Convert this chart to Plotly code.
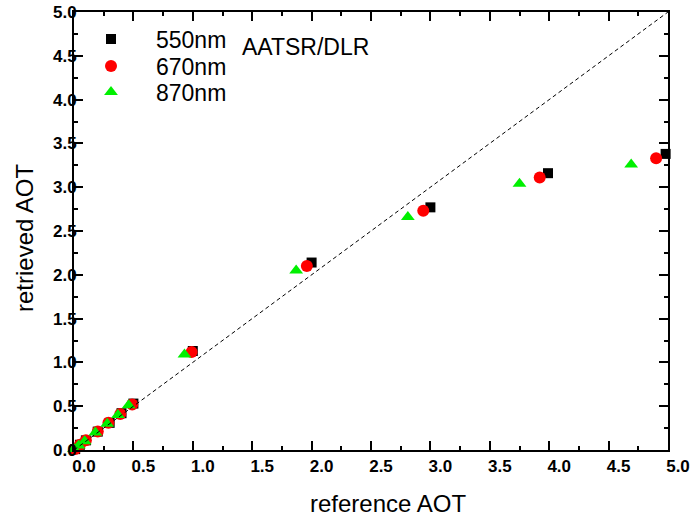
import plotly.graph_objects as go

# reference AOT (x) and retrieved AOT (y) per wavelength
ref_550 = [0.01, 0.05, 0.10, 0.20, 0.30, 0.40, 0.50, 1.00, 2.00, 3.00, 3.99, 4.98]
ret_550 = [0.01, 0.06, 0.11, 0.21, 0.31, 0.42, 0.53, 1.13, 2.14, 2.77, 3.16, 3.38]
ref_670 = [0.01, 0.05, 0.10, 0.20, 0.29, 0.39, 0.49, 0.99, 1.96, 2.94, 3.92, 4.90]
ret_670 = [0.01, 0.06, 0.11, 0.21, 0.31, 0.41, 0.52, 1.12, 2.10, 2.73, 3.11, 3.33]
ref_870 = [0.00, 0.04, 0.09, 0.18, 0.28, 0.37, 0.46, 0.93, 1.87, 2.81, 3.75, 4.69]
ret_870 = [0.01, 0.05, 0.10, 0.20, 0.30, 0.40, 0.51, 1.09, 2.05, 2.66, 3.04, 3.26]
one_to_one = [0.0, 5.0]

tick_vals = [0, 0.5, 1, 1.5, 2, 2.5, 3, 3.5, 4, 4.5, 5]
tick_text = ["0.0", "0.5", "1.0", "1.5", "2.0", "2.5", "3.0", "3.5", "4.0", "4.5", "5.0"]

FONT = "Liberation Sans, Arial, sans-serif"
L, R, T, B = 74, 28, 12, 66
PW, PH = 696 - L - R, 516 - T - B


def px(xpix):
    return (xpix - L) / PW


def py(ypix):
    return 1 - (ypix - T) / PH


fig = go.Figure()
fig.add_trace(go.Scatter(x=ref_550, y=ret_550, mode="markers", name="550nm", legend="legend",
                         marker=dict(symbol="square", size=10, color="black"),
                         cliponaxis=False))
fig.add_trace(go.Scatter(x=ref_670, y=ret_670, mode="markers", name="670nm", legend="legend2",
                         marker=dict(symbol="circle", size=12, color="#ff0000"),
                         cliponaxis=False))
fig.add_trace(go.Scatter(x=ref_870, y=ret_870, mode="markers", name="870nm", legend="legend3",
                         marker=dict(symbol="triangle-up", size=12, color="#00f000"),
                         cliponaxis=False))
fig.add_trace(go.Scatter(x=one_to_one, y=one_to_one, mode="lines", showlegend=False,
                         line=dict(color="black", width=1, dash="4px,3px")))

axis_common = dict(
    range=[0, 5], tickmode="array", tickvals=tick_vals, ticktext=tick_text,
    showgrid=False, zeroline=False, showline=True, linecolor="black", linewidth=2,
    mirror="allticks", ticks="inside", ticklen=9, tickwidth=2, tickcolor="black",
    automargin=False,
    tickfont=dict(family=FONT, size=17, color="black", weight="bold"),
    minor=dict(ticks="inside", ticklen=4, tickwidth=2, tickcolor="black", dtick=0.25, showgrid=False),
)

fig.update_xaxes(**axis_common, ticklabelshift=10)
fig.update_yaxes(**axis_common, ticklabelstandoff=-8)

legend_common = dict(xanchor="left", yanchor="middle",
                     font=dict(family=FONT, size=23, color="black"),
                     itemwidth=80, bgcolor="rgba(0,0,0,0)")

fig.update_layout(
    width=696, height=516,
    margin=dict(l=L, r=R, t=T, b=B),
    plot_bgcolor="white", paper_bgcolor="white",
    font=dict(family=FONT, color="black"),
    showlegend=True,
    legend=dict(x=px(66), y=py(39), **legend_common),
    legend2=dict(x=px(66), y=py(66), **legend_common),
    legend3=dict(x=px(66), y=py(92), **legend_common),
    annotations=[
        dict(text="AATSR/DLR", x=px(240), y=py(47),
             xref="paper", yref="paper", xanchor="left", yanchor="middle",
             showarrow=False, font=dict(family=FONT, size=23, color="black")),
        dict(text="reference AOT", x=px(388), y=py(503),
             xref="paper", yref="paper", xanchor="center", yanchor="middle",
             showarrow=False, font=dict(family=FONT, size=24, color="black")),
        dict(text="retrieved AOT", x=px(24), y=py(238),
             xref="paper", yref="paper", xanchor="center", yanchor="middle",
             textangle=-90, showarrow=False, font=dict(family=FONT, size=24, color="black")),
    ],
)

fig.write_html("out.html")
